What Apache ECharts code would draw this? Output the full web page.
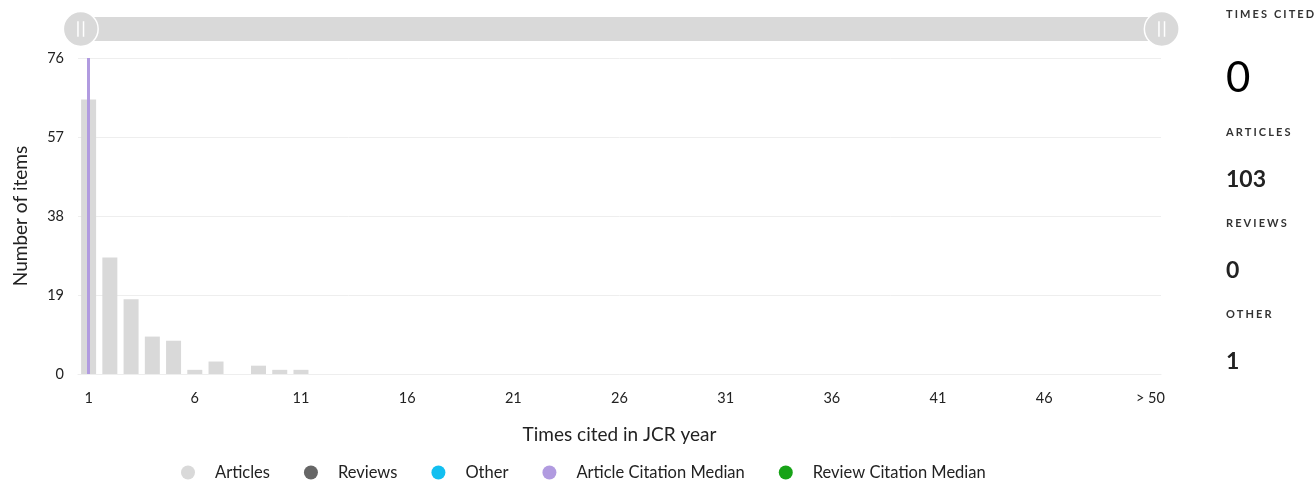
<!DOCTYPE html>
<html>
<head>
<meta charset="utf-8">
<script src="https://cdn.jsdelivr.net/npm/echarts@6/dist/echarts.min.js"></script>
<style>
  html, body { margin: 0; padding: 0; background: #fff; }
  #chart { width: 1316px; height: 485px; position: absolute; left: 0; top: 0; }
  #panel { position: absolute; left: 1226px; top: 0; font-family: Lato, "Noto Sans", sans-serif; color: #222; }
  .lbl { position: absolute; left: 0; font-size: 11px; font-weight: 700; letter-spacing: 2.1px; white-space: nowrap; color: #333; }
  .val { position: absolute; left: 0; font-weight: 700; white-space: nowrap; color: #222; }
</style>
</head>
<body>
<div id="chart"></div>
<div id="panel">
  <div class="lbl" style="top:7px">TIMES CITED</div>
  <div class="val" style="top:51px;font-size:42px;font-weight:400;color:#000">0</div>
  <div class="lbl" style="top:125px">ARTICLES</div>
  <div class="val" style="top:164px;font-size:23px">103</div>
  <div class="lbl" style="top:216px">REVIEWS</div>
  <div class="val" style="top:255px;font-size:23px">0</div>
  <div class="lbl" style="top:307px">OTHER</div>
  <div class="val" style="top:346px;font-size:23px">1</div>
</div>
<script>
const categories = [];
for (let i = 1; i <= 50; i++) categories.push(String(i));
categories.push('> 50');

const articles = [66, 28, 18, 9, 8, 1, 3, 0, 2, 1, 1, 0, 0, 0, 0, 0, 0, 0, 0, 0,
  0, 0, 0, 0, 0, 0, 0, 0, 0, 0, 0, 0, 0, 0, 0, 0, 0, 0, 0, 0,
  0, 0, 0, 0, 0, 0, 0, 0, 0, 0, 0];
const reviews = new Array(51).fill(0);
const other = new Array(51).fill(0);
const articleMedianCategory = '1';
const yTicks = { min: 0, max: 76, interval: 19 };

const FONT = 'Lato, "Noto Sans", sans-serif';
const chart = echarts.init(document.getElementById('chart'));
chart.setOption({
  animation: false,
  textStyle: { fontFamily: FONT },
  grid: { left: 78, right: 155, top: 58, bottom: 111 },
  dataZoom: [{
    type: 'slider',
    xAxisIndex: 0,
    start: 0, end: 100,
    left: 78, right: 155, top: 17, height: 24,
    showDetail: false,
    showDataShadow: false,
    brushSelect: false,
    moveHandleSize: 0,
    borderColor: 'transparent',
    borderRadius: 12,
    backgroundColor: '#d9d9d9',
    fillerColor: '#d9d9d9',
    handleIcon: 'path://M0,-10A10,10,0,1,1,0,10A10,10,0,1,1,0,-10Z M-1.6,-4.5L-1.6,4.5 M1.6,-4.5L1.6,4.5',
    handleSize: '145%',
    handleStyle: { color: '#d9d9d9', borderColor: '#ffffff', borderWidth: 1.5 },
    emphasis: { handleStyle: { color: '#d9d9d9', borderColor: '#ffffff' } }
  }],
  legend: {
    left: 176, top: 459,
    icon: 'circle',
    itemWidth: 14, itemHeight: 14,
    itemGap: 34,
    textStyle: { fontSize: 16.5, color: '#222', padding: [0, 0, 0, 15], fontFamily: FONT },
    data: ['Articles', 'Reviews', 'Other', 'Article Citation Median', 'Review Citation Median']
  },
  xAxis: {
    type: 'category',
    data: categories,
    name: 'Times cited in JCR year',
    nameLocation: 'middle',
    nameGap: 51,
    nameTextStyle: { fontSize: 19, color: '#222' },
    axisLine: { show: true, lineStyle: { color: '#eeeeee' } },
    axisTick: { show: false },
    axisLabel: { interval: 4, fontSize: 14.5, color: '#222', margin: 17 }
  },
  yAxis: {
    type: 'value',
    min: yTicks.min, max: yTicks.max, interval: yTicks.interval,
    name: 'Number of items',
    nameLocation: 'middle',
    nameGap: 48,
    nameTextStyle: { fontSize: 19, color: '#222' },
    axisLine: { show: false },
    axisTick: { show: false },
    axisLabel: { fontSize: 14.5, color: '#222', margin: 14 },
    splitLine: { lineStyle: { color: '#eeeeee' } }
  },
  series: [
    { name: 'Articles', type: 'bar', stack: 'all', data: articles, barWidth: 15, itemStyle: { color: '#d9d9d9' } },
    { name: 'Reviews', type: 'bar', stack: 'all', data: reviews, barWidth: 15, itemStyle: { color: '#666666' } },
    { name: 'Other', type: 'bar', stack: 'all', data: other, barWidth: 15, itemStyle: { color: '#12bff0' } },
    {
      name: 'Article Citation Median', type: 'line', data: [],
      itemStyle: { color: '#b19be0' },
      markLine: {
        silent: true, symbol: 'none', label: { show: false },
        lineStyle: { color: '#b19be0', width: 3, type: 'solid' },
        data: [{ xAxis: articleMedianCategory }]
      }
    },
    { name: 'Review Citation Median', type: 'line', data: [], itemStyle: { color: '#17a317' } }
  ]
});
</script>
</body>
</html>
